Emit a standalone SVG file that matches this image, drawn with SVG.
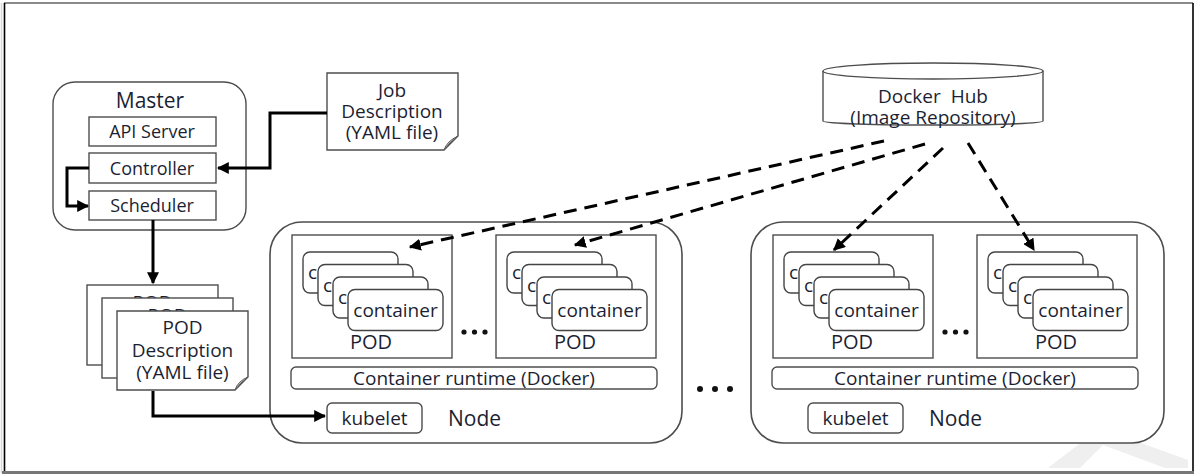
<svg xmlns="http://www.w3.org/2000/svg" width="1195" height="475" viewBox="0 0 1195 475">
  <style>
    text { font-family: "Open Sans", "Liberation Sans", sans-serif; fill: #1c1f33; text-anchor: middle; }
    .t18 { font-size: 18px; }
    .t19 { font-size: 19px; }
    .t20 { font-size: 20px; }
    .t21 { font-size: 21px; }
    .peek { font-size: 19px; text-anchor: start; }
    .box { fill: #fff; stroke: #4d4d4d; stroke-width: 1.4; }
    .outer { fill: #fff; stroke: #4d4d4d; stroke-width: 1.6; }
    .ctr { fill: #fff; stroke: #444; stroke-width: 1.4; }
    .doc { fill: #fff; stroke: #4d4d4d; stroke-width: 1.4; }
    .fold { fill: #cfcfcf; stroke: #555; stroke-width: 1; }
    .wire { fill: none; stroke: #000; stroke-width: 3; }
    .dash { fill: none; stroke: #000; stroke-width: 3; stroke-dasharray: 13 8; }
    .dot { fill: #111; }
  </style>
  <defs>
    <marker id="arrow" viewBox="0 0 10 10" refX="9" refY="5" markerWidth="4" markerHeight="4" orient="auto" markerUnits="strokeWidth">
      <path d="M0,0 L10,5 L0,10 Z" fill="#000"/>
    </marker>
  </defs>

  <!-- page frame -->
  <rect x="0" y="0" width="1195" height="475" fill="#fff"/>
  <g id="frame">
    <line x1="4" y1="3" x2="1193" y2="3" stroke="#8a8a8a" stroke-width="2"/>
    <line x1="4.5" y1="3" x2="4.5" y2="471" stroke="#000" stroke-width="1.6"/>
    <line x1="1.5" y1="3" x2="1.5" y2="473" stroke="#d8d8d8" stroke-width="1.5"/>
    <line x1="1193" y1="3" x2="1193" y2="471" stroke="#000" stroke-width="1.6"/>
    <line x1="2" y1="472.5" x2="1194" y2="472.5" stroke="#777" stroke-width="3"/>
  </g>

  <!-- faint publisher mark -->
  <g id="mark" fill="#efefef">
    <polygon points="1048,468 1100,428 1188,460 1188,468 1165,468 1103,445 1080,468"/>
  </g>

  <!-- Master -->
  <g id="master">
    <rect class="box" x="53" y="82" width="193" height="148" rx="22"/>
    <text class="t21" x="150" y="108">Master</text>
    <g id="api-server">
      <rect class="box" x="89" y="117" width="127" height="29"/>
      <text class="t18" x="152" y="138">API Server</text>
    </g>
    <g id="controller">
      <rect class="box" x="89" y="153" width="127" height="30"/>
      <text class="t18" x="152" y="174.5">Controller</text>
    </g>
    <g id="scheduler">
      <rect class="box" x="89" y="191" width="127" height="29"/>
      <text class="t18" x="152" y="211.5">Scheduler</text>
    </g>
  </g>

  <!-- Job description document -->
  <g id="job-description">
    <path class="doc" d="M327,73 H458 V136 L444,150 H327 Z"/>
    <path class="fold" d="M444,150 Q447,141 458,136 Q449,143 444,150 Z"/>
    <text class="t19" x="392" y="97">Job</text>
    <text class="t19" x="392" y="118">Description</text>
    <text class="t19" x="392" y="139">(YAML file)</text>
  </g>

  <!-- POD description documents -->
  <g id="pod-description">
    <rect class="doc" x="87" y="285" width="131" height="80"/>
    <text class="t19" x="152.5" y="309">POD</text>
    <rect class="doc" x="102" y="298" width="131" height="80"/>
    <text class="t19" x="167.5" y="322">POD</text>
    <path class="doc" d="M117,311 H248 V377 L235,390 H117 Z"/>
    <path class="fold" d="M235,390 Q238,381 248,377 Q240,383 235,390 Z"/>
    <text class="t19" x="182.5" y="334">POD</text>
    <text class="t19" x="182.5" y="357">Description</text>
    <text class="t19" x="182.5" y="379">(YAML file)</text>
  </g>

  <!-- Docker Hub -->
  <g id="docker-hub">
    <path class="box" d="M823,71 V121 A110,4 0 0 0 1043,121 V71"/>
    <ellipse class="box" cx="933" cy="71" rx="110" ry="8"/>
    <text class="t19" x="933" y="103" xml:space="preserve">Docker  Hub</text>
    <text class="t19" x="933" y="124">(Image Repository)</text>
  </g>

  <!-- Worker node 1 -->
  <g id="node-1">
    <rect class="outer" x="270" y="222" width="412" height="221" rx="32"/>
    <g id="node-1-pod-1">
      <rect class="box" x="292" y="235" width="160" height="123"/>
      <rect class="ctr" x="303" y="252" width="95" height="41" rx="7"/>
      <text class="peek" x="308" y="279">c</text>
      <rect class="ctr" x="318" y="264.5" width="95" height="41" rx="7"/>
      <text class="peek" x="323" y="291.5">c</text>
      <rect class="ctr" x="333" y="277" width="95" height="41" rx="7"/>
      <text class="peek" x="338" y="304">c</text>
      <rect class="ctr" x="348" y="289.5" width="95" height="41" rx="7"/>
      <text class="t19" x="395.5" y="316.5">container</text>
      <text class="t20" x="371" y="349">POD</text>
    </g>
    <g id="node-1-gap">
      <circle class="dot" cx="464" cy="332" r="2.6"/>
      <circle class="dot" cx="474.5" cy="332" r="2.6"/>
      <circle class="dot" cx="485" cy="332" r="2.6"/>
    </g>
    <g id="node-1-pod-2">
      <rect class="box" x="496" y="235" width="160" height="123"/>
      <rect class="ctr" x="507" y="252" width="95" height="41" rx="7"/>
      <text class="peek" x="512" y="279">c</text>
      <rect class="ctr" x="522" y="264.5" width="95" height="41" rx="7"/>
      <text class="peek" x="527" y="291.5">c</text>
      <rect class="ctr" x="537" y="277" width="95" height="41" rx="7"/>
      <text class="peek" x="542" y="304">c</text>
      <rect class="ctr" x="552" y="289.5" width="95" height="41" rx="7"/>
      <text class="t19" x="599.5" y="316.5">container</text>
      <text class="t20" x="575" y="349">POD</text>
    </g>
    <g id="node-1-runtime">
      <rect class="box" x="291" y="367" width="366" height="22" rx="5"/>
      <text class="t19" x="474" y="385">Container runtime (Docker)</text>
    </g>
    <g id="node-1-kubelet">
      <rect class="box" x="327" y="403" width="95" height="30" rx="5"/>
      <text class="t19" x="374.5" y="424.5">kubelet</text>
    </g>
    <text class="t21" x="448" y="425.5" style="text-anchor:start">Node</text>
  </g>

  <!-- gap between nodes -->
  <g id="nodes-gap">
    <circle class="dot" cx="700" cy="389" r="3"/>
    <circle class="dot" cx="715" cy="389" r="3"/>
    <circle class="dot" cx="730" cy="389" r="3"/>
  </g>

  <!-- Worker node 2 -->
  <g id="node-2">
    <rect class="outer" x="751" y="222" width="413" height="221" rx="32"/>
    <g id="node-2-pod-1">
      <rect class="box" x="773" y="235" width="160" height="123"/>
      <rect class="ctr" x="784" y="252" width="95" height="41" rx="7"/>
      <text class="peek" x="789" y="279">c</text>
      <rect class="ctr" x="799" y="264.5" width="95" height="41" rx="7"/>
      <text class="peek" x="804" y="291.5">c</text>
      <rect class="ctr" x="814" y="277" width="95" height="41" rx="7"/>
      <text class="peek" x="819" y="304">c</text>
      <rect class="ctr" x="829" y="289.5" width="95" height="41" rx="7"/>
      <text class="t19" x="876.5" y="316.5">container</text>
      <text class="t20" x="852" y="349">POD</text>
    </g>
    <g id="node-2-gap">
      <circle class="dot" cx="945" cy="332" r="2.6"/>
      <circle class="dot" cx="955.5" cy="332" r="2.6"/>
      <circle class="dot" cx="966" cy="332" r="2.6"/>
    </g>
    <g id="node-2-pod-2">
      <rect class="box" x="977" y="235" width="160" height="123"/>
      <rect class="ctr" x="988" y="252" width="95" height="41" rx="7"/>
      <text class="peek" x="993" y="279">c</text>
      <rect class="ctr" x="1003" y="264.5" width="95" height="41" rx="7"/>
      <text class="peek" x="1008" y="291.5">c</text>
      <rect class="ctr" x="1018" y="277" width="95" height="41" rx="7"/>
      <text class="peek" x="1023" y="304">c</text>
      <rect class="ctr" x="1033" y="289.5" width="95" height="41" rx="7"/>
      <text class="t19" x="1080.5" y="316.5">container</text>
      <text class="t20" x="1056" y="349">POD</text>
    </g>
    <g id="node-2-runtime">
      <rect class="box" x="772" y="367" width="366" height="22" rx="5"/>
      <text class="t19" x="955" y="385">Container runtime (Docker)</text>
    </g>
    <g id="node-2-kubelet">
      <rect class="box" x="808" y="403" width="95" height="30" rx="5"/>
      <text class="t19" x="855.5" y="424.5">kubelet</text>
    </g>
    <text class="t21" x="929" y="425.5" style="text-anchor:start">Node</text>
  </g>

  <!-- connectors -->
  <g id="connectors">
    <polyline class="wire" points="327,113 270,113 270,168 218,168" marker-end="url(#arrow)"/>
    <polyline class="wire" points="89,168 67,168 67,206 88,206" marker-end="url(#arrow)"/>
    <polyline class="wire" points="153,220 153,283" marker-end="url(#arrow)"/>
    <polyline class="wire" points="153,391 153,416 325,416" marker-end="url(#arrow)"/>
    <line class="dash" x1="884" y1="141" x2="410" y2="247" marker-end="url(#arrow)"/>
    <line class="dash" x1="925" y1="144" x2="575" y2="245" marker-end="url(#arrow)"/>
    <line class="dash" x1="943" y1="148" x2="834" y2="250" marker-end="url(#arrow)"/>
    <line class="dash" x1="968" y1="143" x2="1034" y2="250" marker-end="url(#arrow)"/>
  </g>
</svg>
